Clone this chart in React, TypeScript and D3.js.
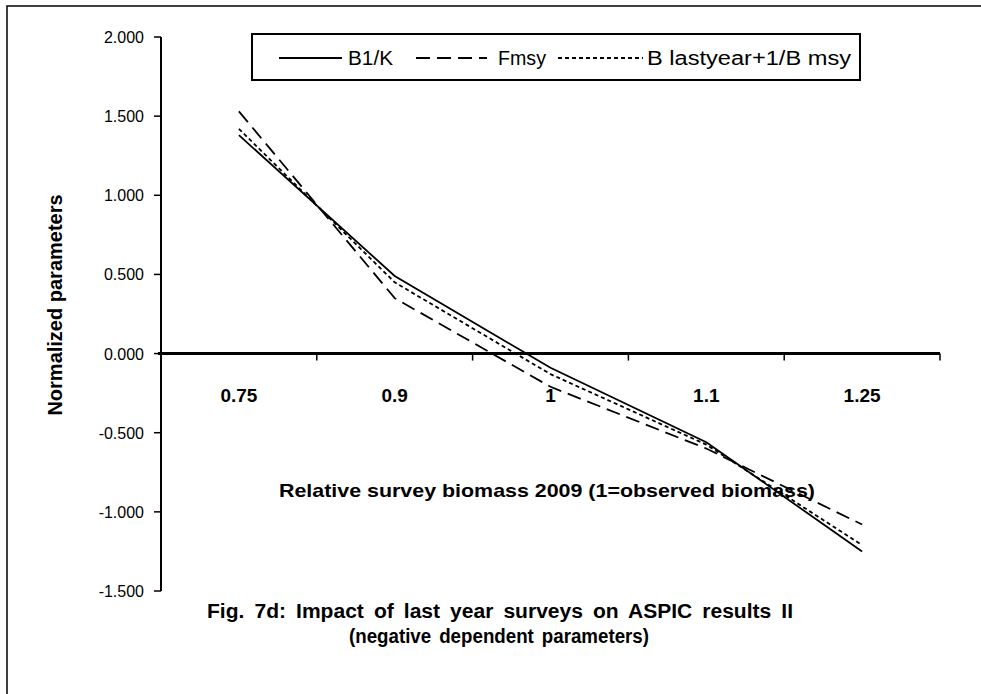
import React from "react";
import * as d3 from "d3";

const categories = ["0.75", "0.9", "1", "1.1", "1.25"];
const b1k = [1.38, 0.49, -0.09, -0.56, -1.25];
const fmsy = [1.53, 0.35, -0.21, -0.6, -1.08];
const blast = [1.42, 0.45, -0.13, -0.575, -1.21];
const yTicks = [2, 1.5, 1, 0.5, 0, -0.5, -1, -1.5];

const seriesNames = ["B1/K", "Fmsy", "B lastyear+1/B msy"];
const seriesData = [b1k, fmsy, blast];
const dashes = ["none", "14,7", "4,3"];

export default function App() {
  const W = 981, H = 694;
  const left = 161, right = 940, top = 37, bottom = 591;
  const x = d3.scaleBand<string>().domain(categories).range([left, right]).padding(0);
  const y = d3.scaleLinear().domain([-1.5, 2]).range([bottom, top]);
  const line = d3
    .line<number>()
    .x((_, i) => (x(categories[i]) as number) + x.bandwidth() / 2)
    .y((d) => y(d));
  const font = "'Liberation Sans', Arial, sans-serif";
  const fmt = (t: number) => d3.format(".3f")(t).replace("\u2212", "-");
  const boundaries = categories.map((c) => x(c) as number).concat([right]);
  const legendItems = [
    { x0: 279, x1: 342, tx: 348, tl: 45 },
    { x0: 416, x1: 487, tx: 498, tl: 48 },
    { x0: 558, x1: 643, tx: 647, tl: 204 },
  ];
  return (
    <svg
      width={W}
      height={H}
      style={{ position: "absolute", left: 0, top: 0, background: "#fff" }}
      fontFamily={font}
    >
      <rect x={0} y={0} width={W} height={H} fill="#fff" />
      <rect x={7} y={6} width={W + 20} height={H + 20} fill="none" stroke="#000" strokeWidth={1.5} />
      {/* y axis */}
      <line x1={left} x2={left} y1={top} y2={bottom} stroke="#000" strokeWidth={2} />
      {yTicks.map((t) => (
        <g key={t}>
          <line x1={left - 7} x2={left} y1={y(t)} y2={y(t)} stroke="#000" strokeWidth={1.5} />
          <text x={left - 17} y={y(t) + 6} textAnchor="end" fontSize={16} fill="#000">
            {fmt(t)}
          </text>
        </g>
      ))}
      {/* x axis at zero */}
      <line x1={left - 3} x2={right} y1={y(0)} y2={y(0)} stroke="#000" strokeWidth={3} />
      {boundaries.map((b, i) => (
        <line key={i} x1={b} x2={b} y1={y(0)} y2={y(0) + 7} stroke="#000" strokeWidth={1.5} />
      ))}
      {categories.map((c) => (
        <text
          key={c}
          x={(x(c) as number) + x.bandwidth() / 2}
          y={y(0) + 48}
          textAnchor="middle"
          fontSize={19}
          fontWeight="bold"
          fill="#000"
        >
          {c}
        </text>
      ))}
      {/* series */}
      {seriesData.map((s, i) => (
        <path
          key={i}
          d={line(s) as string}
          fill="none"
          stroke="#000"
          strokeWidth={1.8}
          strokeDasharray={dashes[i]}
        />
      ))}
      {/* legend */}
      <rect x={252} y={34} width={608} height={46} fill="#fff" stroke="#000" strokeWidth={2} />
      {legendItems.map((it, i) => (
        <g key={i}>
          <line x1={it.x0} x2={it.x1} y1={58} y2={58} stroke="#000" strokeWidth={1.8} strokeDasharray={dashes[i]} />
          <text x={it.tx} y={65} fontSize={20} fill="#000" textLength={it.tl} lengthAdjust="spacingAndGlyphs">
            {seriesNames[i]}
          </text>
        </g>
      ))}
      {/* axis titles */}
      <text
        x={547}
        y={497}
        textAnchor="middle"
        fontSize={19}
        fontWeight="bold"
        fill="#000"
        textLength={536}
        lengthAdjust="spacingAndGlyphs"
      >
        Relative survey biomass 2009 (1=observed biomass)
      </text>
      <text
        transform={`translate(62, 305) rotate(-90)`}
        textAnchor="middle"
        fontSize={20}
        fontWeight="bold"
        fill="#000"
      >
        Normalized parameters
      </text>
      {/* title */}
      <text
        x={500}
        y={618}
        textAnchor="middle"
        fontSize={20}
        fontWeight="bold"
        fill="#000"
        wordSpacing={4}
        textLength={586}
        lengthAdjust="spacingAndGlyphs"
      >
        Fig. 7d: Impact of last year surveys on ASPIC results II
      </text>
      <text
        x={499}
        y={643}
        textAnchor="middle"
        fontSize={20}
        fontWeight="bold"
        fill="#000"
        wordSpacing={3}
        textLength={300}
        lengthAdjust="spacingAndGlyphs"
      >
        (negative dependent parameters)
      </text>
    </svg>
  );
}
